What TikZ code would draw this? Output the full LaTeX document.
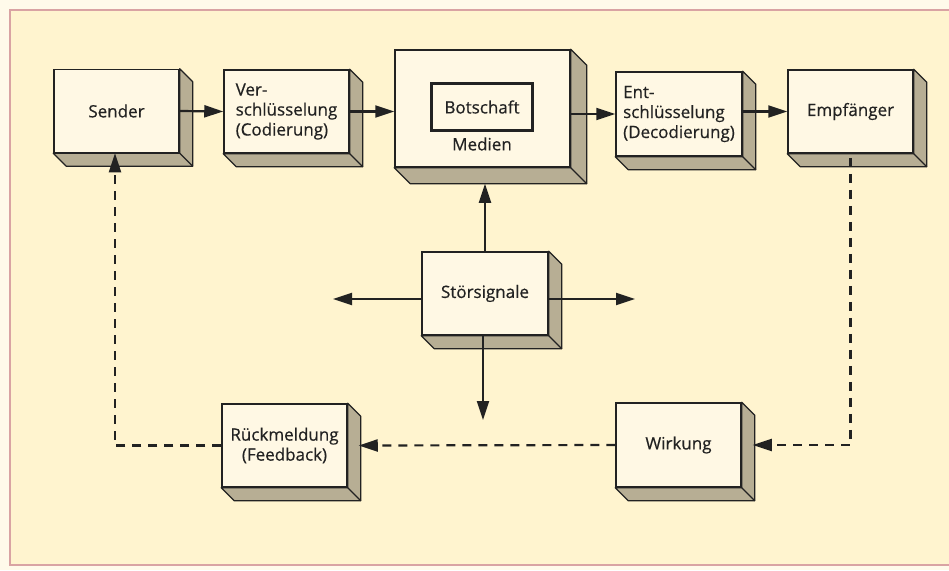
\documentclass[tikz,border=0pt]{standalone}
\usepackage{fontspec}
\setmainfont{Open Sans}
\newfontfamily\boxfont{Open Sans}[FakeBold=0.5]
\usetikzlibrary{arrows.meta}

\definecolor{papier}{HTML}{FFFAEA}
\definecolor{feld}{HTML}{FFF4CF}
\definecolor{rand}{HTML}{D9A3A3}
\definecolor{front}{HTML}{FFF8E4}
\definecolor{schatten}{HTML}{B7AE94}
\definecolor{strich}{HTML}{222222}

\tikzset{
  block/.style={draw=strich, line width=1.5pt, fill=front, text=strich,
    minimum width=125pt, minimum height=83pt, inner sep=0pt,
    font=\boxfont\fontsize{17}{20}\selectfont},
  flow/.style={draw=strich, line width=2.2pt,
    -{Triangle[length=19pt,width=12pt]}},
  back/.style={flow, dash pattern=on 9pt off 7pt},
}

% 3D-Kante rechts und unten an einem Kasten
\newcommand{\kante}[2]{%
  \filldraw[fill=schatten, draw=strich, line width=1.2pt, line join=round]
    (#1.north east) -- ([xshift=#2pt,yshift=-#2pt]#1.north east)
    -- ([xshift=#2pt,yshift=-#2pt]#1.south east)
    -- ([xshift=#2pt,yshift=-#2pt]#1.south west)
    -- (#1.south west) -- (#1.south east) -- cycle;
  \draw[strich, line width=1.2pt] (#1.south east) -- ([xshift=#2pt,yshift=-#2pt]#1.south east);}

\begin{document}
\begin{tikzpicture}[x=1pt, y=-1pt]
  \useasboundingbox (0,0) rectangle (949,570);
  \fill[papier] (0,0) rectangle (949,570);
  \filldraw[fill=feld, draw=rand, line width=2pt] (10,10) rectangle (962,565);

  % Kaesten
  \node[block] (sender) at (116.5,111) {Sender};
  \node[block, align=left] (versch) at (286.5,111.5) {Ver-\\schlüsselung\\(Codierung)};
  \node[block, minimum width=175pt, minimum height=117pt] (medien) at (482.5,108.5) {};
  \node[draw=strich, line width=3pt, fill=front, minimum width=101pt, minimum height=47pt,
    font=\boxfont\fontsize{17}{20}\selectfont, text=strich] (botschaft) at (482,107) {Botschaft};
  \node[font=\boxfont\fontsize{17}{20}\selectfont, text=strich] (medientext) at (482,144) {Medien};
  \node[block, minimum width=126pt, minimum height=84pt, align=left] (entsch) at (679,114)
    {Ent-\\schlüsselung\\(Decodierung)};
  \node[block] (empf) at (850.5,111.5) {Empfänger};
  \node[block, minimum width=126pt] (stoer) at (485,293.5) {Störsignale};
  \node[block, align=center] (rueck) at (284.5,445.5) {Rückmeldung\\(Feedback)};
  \node[block, minimum height=84pt] (wirkung) at (678.5,445) {Wirkung};

  \foreach \n in {sender,versch,entsch,empf,stoer,rueck,wirkung}
    \kante{\n}{13};
  \kante{medien}{16}

  % freie Enden der Stoerpfeile
  \coordinate (links) at (333,299);
  \coordinate (rechts) at (635,299);
  \coordinate (unten) at (483,420);

  % Pfeile
  \draw[flow] (sender.east) -- (versch.west);
  \draw[flow] (versch.east) -- (versch.east -| medien.west);
  \draw[flow] (medien.east |- entsch.west) -- (entsch.west);
  \draw[flow] (entsch.east |- empf.west) -- (empf.west);
  \draw[flow] (stoer.north) -- ([yshift=-16pt]stoer.north |- medien.south);
  \draw[flow] (stoer.west |- links) -- (links);
  \draw[flow] (stoer.east |- rechts) -- (rechts);
  \draw[flow] (stoer.south -| unten) -- (unten);

  % Rueckkopplung
  \draw[back] ([yshift=-4pt]empf.south) |- ([xshift=11pt]wirkung.east);
  \draw[back] (wirkung.west) -- ([xshift=11pt]rueck.east);
  \draw[back] (rueck.west) -| ([xshift=-1.5pt]sender.south);
\end{tikzpicture}
\end{document}
